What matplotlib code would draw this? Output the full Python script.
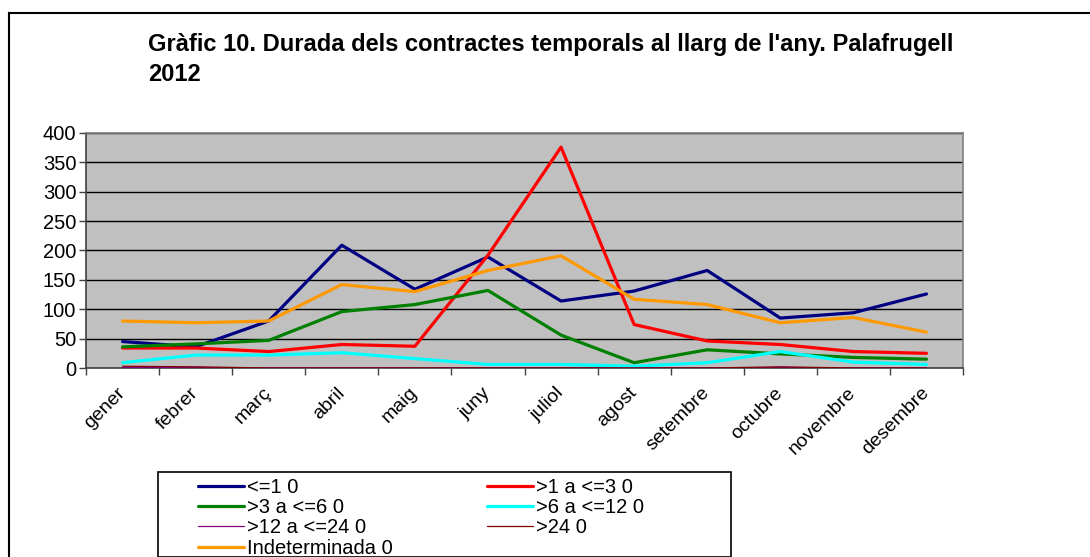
import matplotlib.pyplot as plt
from matplotlib.lines import Line2D
from matplotlib.patches import Rectangle

plt.rcParams['font.family'] = ['Liberation Sans', 'DejaVu Sans']

mesos = ['gener', 'febrer', 'març', 'abril', 'maig', 'juny', 'juliol',
         'agost', 'setembre', 'octubre', 'novembre', 'desembre']

# contractes per durada (mesos)
fins_1 = [45, 36, 80, 209, 134, 189, 114, 131, 166, 85, 94, 126]
de_1_a_3 = [34, 34, 28, 40, 37, 192, 376, 74, 46, 40, 28, 25]
de_3_a_6 = [36, 41, 47, 96, 108, 132, 56, 9, 31, 24, 18, 15]
de_6_a_12 = [9, 22, 22, 26, 16, 6, 6, 3, 9, 28, 10, 6]
de_12_a_24 = [1, 1, 0, 0, 0, 0, 0, 0, 0, 1, 0, 0]
mes_24 = [3, 2, 0, 0, 0, 0, 0, 0, 0, 2, 0, 0]
indeterminada = [80, 77, 80, 142, 130, 166, 191, 117, 108, 77, 86, 61]

series = [
    ('<=1 0', fins_1, '#000080', 2.3),
    ('>1 a <=3 0', de_1_a_3, '#ff0000', 2.3),
    ('>3 a <=6 0', de_3_a_6, '#008000', 2.3),
    ('>6 a <=12 0', de_6_a_12, '#00ffff', 2.3),
    ('>12 a <=24 0', de_12_a_24, '#800080', 0.9),
    ('>24 0', mes_24, '#800000', 0.9),
    ('Indeterminada 0', indeterminada, '#ff9900', 2.3),
]

W, H = 1090, 557
fig = plt.figure(figsize=(W / 100, H / 100), dpi=100)
ax = fig.add_axes([86 / W, 1 - 368 / H, (963 - 86) / W, (368 - 133) / H])
ax.set_facecolor('#c0c0c0')

x = list(range(len(mesos)))
linies = {}
for nom, vals, col, lw in series:
    ln, = ax.plot(x, vals, color=col, lw=lw, solid_capstyle='round', zorder=3)
    linies[nom] = ln

ax.set_xlim(-0.5, 11.5)
ax.set_ylim(0, 400)
ax.set_yticks(range(0, 401, 50))
ax.tick_params(axis='y', labelsize=14.5, length=5, width=1, color='#404040', pad=2)
ax.grid(axis='y', color='black', lw=1, zorder=1)
ax.set_axisbelow(True)

ax.set_xticks(x)
ax.set_xticklabels(mesos, rotation=45, ha='right', va='center',
                   rotation_mode='anchor', fontsize=14)
ax.tick_params(axis='x', length=0, pad=16)
ax.set_xticks([k + 0.5 for k in range(-1, 12)], minor=True)
ax.tick_params(axis='x', which='minor', length=5, width=1, color='#404040')

for s in ax.spines.values():
    s.set_color('#808080')
    s.set_linewidth(1.2)
ax.spines['left'].set_color('#404040')
ax.spines['bottom'].set_color('#404040')

fig.text(148 / W, 1 - 45 / H, "Gràfic 10. Durada dels contractes temporals al llarg de l'any. Palafrugell",
         fontsize=17, fontweight='bold', ha='left', va='center')
fig.text(148 / W, 1 - 75 / H, '2012', fontsize=17, fontweight='bold', ha='left', va='center')

# llegenda: caixa a part, entrades en dues columnes
fig.add_artist(Rectangle((158 / W, 1 - 557 / H), (731 - 158) / W, (557 - 472) / H,
                         transform=fig.transFigure, facecolor='white',
                         edgecolor='black', lw=1.2, zorder=4))
ordre = ['<=1 0', '>3 a <=6 0', '>12 a <=24 0', 'Indeterminada 0',
         '>1 a <=3 0', '>6 a <=12 0', '>24 0']
leg = fig.legend([linies[n] for n in ordre], ordre, ncol=2,
                 loc='upper left', bbox_to_anchor=(198 / W, 1 - 478 / H),
                 fontsize=14.5, frameon=False,
                 handlelength=2.3, handletextpad=0.12, labelspacing=0.06,
                 columnspacing=4.7, borderpad=0, borderaxespad=0)
leg.set_zorder(5)

# marc exterior
fig.add_artist(Line2D([9 / W, 9 / W], [0, 1 - 13 / H], color='black', lw=1.5))
fig.add_artist(Line2D([9 / W, 1], [1 - 13 / H, 1 - 13 / H], color='black', lw=1.5))

fig.savefig('out.png', dpi=100)
